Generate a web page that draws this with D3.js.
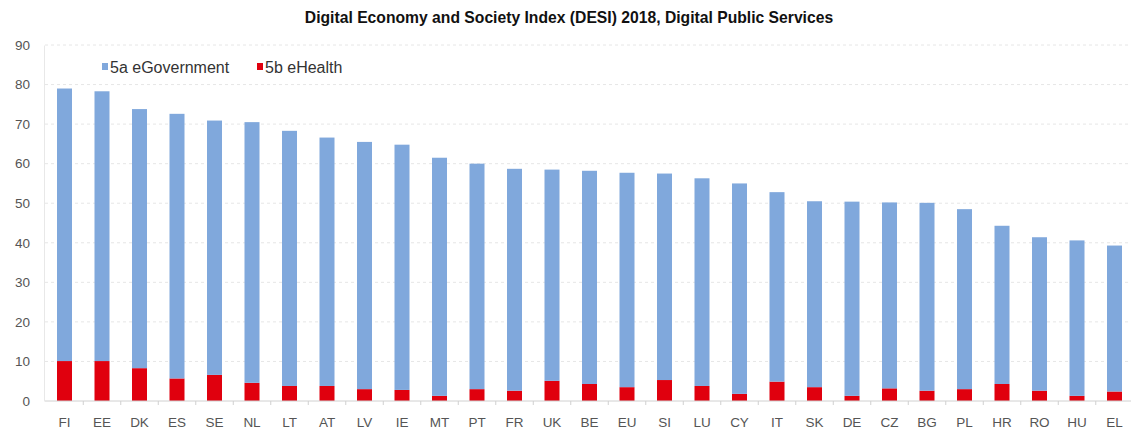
<!DOCTYPE html>
<html>
<head>
<meta charset="utf-8">
<script src="https://cdn.jsdelivr.net/npm/d3@7"></script>
<style>
  html, body { margin: 0; padding: 0; background: #ffffff; }
  svg { display: block; font-family: "Liberation Sans", Arial, sans-serif; }
</style>
</head>
<body>
<svg id="chart" width="1131" height="438"></svg>
<script>
// DESI 2018 – Digital Public Services, by country
const countries = ["FI","EE","DK","ES","SE","NL","LT","AT","LV","IE","MT","PT","FR","UK","BE","EU","SI","LU","CY","IT","SK","DE","CZ","BG","PL","HR","RO","HU","EL"];
const eGovernment = [68.9,68.2,65.5,66.9,64.3,65.9,64.5,62.8,62.5,62.0,60.2,57.0,56.1,53.4,53.9,54.2,52.2,52.5,53.2,47.9,47.0,49.1,47.0,47.5,45.5,40.0,38.8,39.3,36.9];
const eHealth     = [10.1,10.1,8.3,5.7,6.6,4.6,3.8,3.8,3.0,2.8,1.3,3.0,2.6,5.1,4.3,3.5,5.3,3.8,1.8,4.9,3.5,1.3,3.2,2.6,3.0,4.3,2.6,1.3,2.4];
const yTicks = [0,10,20,30,40,50,60,70,80,90];
const seriesNames = ["5a eGovernment","5b eHealth"];
const seriesColors = ["#80a8dc","#e0000e"];

const svg = d3.select("#chart");

const x = d3.scaleBand()
  .domain(countries)
  .range([45.75, 1133.25])
  .paddingInner(0.6)
  .paddingOuter(0.3);

const y = d3.scaleLinear()
  .domain([0, 90])
  .range([401, 45]);

// Title
svg.append("text")
  .attr("x", 569).attr("y", 23)
  .attr("text-anchor", "middle")
  .attr("font-size", 15.7)
  .attr("font-weight", "bold")
  .attr("fill", "#111")
  .text("Digital Economy and Society Index (DESI) 2018, Digital Public Services");

// Horizontal dashed gridlines
svg.append("g")
  .selectAll("line")
  .data(yTicks.filter(d => d > 0))
  .join("line")
  .attr("x1", 45).attr("x2", 1131)
  .attr("y1", d => y(d)).attr("y2", d => y(d))
  .attr("stroke", "#e6e6e6")
  .attr("stroke-dasharray", "3,3")
  .attr("stroke-width", 1);

// Y axis (labels only, faint vertical line)
const yAxis = svg.append("g")
  .attr("transform", "translate(44,0)")
  .call(d3.axisLeft(y).tickValues(yTicks).tickSize(0).tickPadding(14));
yAxis.select(".domain").attr("stroke", "#e8e8e8");
yAxis.selectAll("text")
  .attr("font-size", 13.5)
  .attr("fill", "#555")
  .attr("font-family", "Liberation Sans, Arial, sans-serif");

// Stacked bars
const rows = countries.map((c, i) => ({ country: c, eHealth: eHealth[i], eGovernment: eGovernment[i] }));
const stack = d3.stack().keys(["eHealth", "eGovernment"]);
const layers = stack(rows);
const layerColor = { eHealth: seriesColors[1], eGovernment: seriesColors[0] };

svg.append("g")
  .selectAll("g")
  .data(layers)
  .join("g")
  .attr("fill", d => layerColor[d.key])
  .selectAll("rect")
  .data(d => d)
  .join("rect")
  .attr("x", d => x(d.data.country))
  .attr("width", x.bandwidth())
  .attr("y", d => y(d[1]))
  .attr("height", d => y(d[0]) - y(d[1]));

// X axis
const step = x.step();
const xAxis = svg.append("g")
  .attr("transform", `translate(0,${y(0)})`)
  .call(d3.axisBottom(x).tickSize(0).tickPadding(16));
xAxis.select(".domain").remove();
xAxis.append("line")
  .attr("x1", 45).attr("x2", 1131)
  .attr("stroke", "#d0d0d0");
xAxis.append("g")
  .selectAll("line")
  .data(countries.slice(1))
  .join("line")
  .attr("x1", d => x(d) - (step - x.bandwidth()) / 2)
  .attr("x2", d => x(d) - (step - x.bandwidth()) / 2)
  .attr("y1", 0).attr("y2", 4)
  .attr("stroke", "#d0d0d0");
xAxis.selectAll(".tick text")
  .attr("font-size", 13.5)
  .attr("fill", "#555")
  .attr("font-family", "Liberation Sans, Arial, sans-serif");

// Legend
const legend = svg.append("g").attr("transform", "translate(102,67)");
const legendX = [0, 155];
seriesNames.forEach((name, i) => {
  const g = legend.append("g").attr("transform", `translate(${legendX[i]},0)`);
  g.append("rect")
    .attr("x", 0).attr("y", -4)
    .attr("width", 6).attr("height", 7)
    .attr("fill", seriesColors[i]);
  g.append("text")
    .attr("x", 8).attr("y", 5.5)
    .attr("font-size", 16)
    .attr("fill", "#333")
    .text(name);
});
</script>
</body>
</html>
